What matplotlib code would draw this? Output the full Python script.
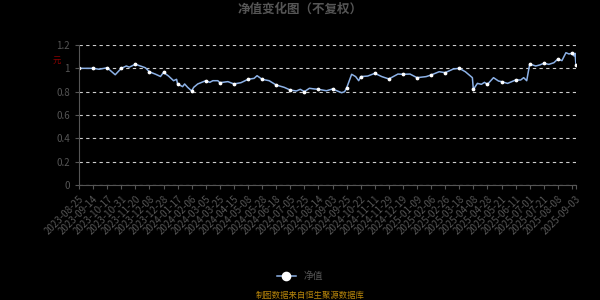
import matplotlib
matplotlib.use("Agg")
import matplotlib.pyplot as plt

plt.rcParams["font.family"] = ["Noto Sans CJK SC", "DejaVu Sans"]

# trading-day index since 2023-08-25 and net value
day_idx = [0, 7, 14, 20, 28, 36, 42, 47, 50, 56, 61, 66, 70, 76, 81, 84, 89, 94, 97, 98,
           103, 105, 108, 112, 114, 118, 122, 126, 130, 133, 138, 140, 148, 154, 161, 168,
           174, 177, 182, 189, 196, 204, 210, 216, 220, 224, 229, 234, 238, 246, 252, 261,
           264, 266, 271, 275, 278, 280, 287, 294, 301, 308, 317, 322, 329, 336, 345, 350,
           358, 364, 372, 378, 384, 391, 392, 396, 400, 403, 406, 412, 417, 420, 426, 434,
           439, 442, 445, 448, 454, 458, 462, 467, 472, 476, 480, 484, 487, 490, 492, 493, 494]
nav = [1.000, 1.000, 1.000, 0.992, 1.005, 0.945, 1.000, 1.020, 1.010, 1.035, 1.020, 1.005,
       0.970, 0.950, 0.930, 0.965, 0.934, 0.894, 0.906, 0.866, 0.843, 0.866, 0.837, 0.806,
       0.837, 0.866, 0.880, 0.894, 0.880, 0.894, 0.894, 0.877, 0.886, 0.866, 0.877, 0.906,
       0.914, 0.937, 0.906, 0.894, 0.857, 0.837, 0.814, 0.806, 0.820, 0.800, 0.829, 0.823,
       0.820, 0.808, 0.823, 0.791, 0.800, 0.831, 0.949, 0.929, 0.894, 0.929, 0.934, 0.957,
       0.929, 0.909, 0.951, 0.949, 0.951, 0.920, 0.929, 0.943, 0.971, 0.963, 0.994, 1.000,
       0.971, 0.920, 0.820, 0.871, 0.863, 0.880, 0.863, 0.920, 0.891, 0.886, 0.871, 0.900,
       0.900, 0.920, 0.894, 1.037, 1.020, 1.029, 1.043, 1.034, 1.048, 1.080, 1.066, 1.134,
       1.123, 1.129, 1.106, 1.129, 1.029]

tick_labels = ["2023-08-25", "2023-09-14", "2023-10-17", "2023-10-31", "2023-11-20",
               "2023-12-08", "2023-12-28", "2024-01-17", "2024-02-06", "2024-03-05",
               "2024-03-25", "2024-04-15", "2024-05-08", "2024-05-28", "2024-06-18",
               "2024-07-05", "2024-07-25", "2024-08-14", "2024-09-03", "2024-09-25",
               "2024-10-22", "2024-11-11", "2024-11-29", "2024-12-19", "2025-01-09",
               "2025-02-06", "2025-02-26", "2025-03-18", "2025-04-08", "2025-04-28",
               "2025-05-21", "2025-06-11", "2025-07-01", "2025-07-21", "2025-08-08", "", "2025-09-03"]
tick_pos = list(range(0, 491, 14)) + [494]

GREY = "#555555"

fig = plt.figure(figsize=(6, 3), dpi=100, facecolor="black")
ax = fig.add_axes([79 / 600, 1 - 185 / 300, 497 / 600, 140 / 300], facecolor="black")

marks = [i for i, d in enumerate(day_idx) if d % 14 == 0 or d == day_idx[-1]]
ax.plot(day_idx, nav, color="#8cb1e6", linewidth=1.1, marker="o", markersize=1.7,
        markerfacecolor="white", markeredgecolor="white", markevery=marks, label="净值")

ax.set_xlim(0, 494)
ax.set_ylim(0, 1.2)
ax.set_yticks([0, 0.2, 0.4, 0.6, 0.8, 1.0, 1.2])
ax.set_yticklabels(["0", "0.2", "0.4", "0.6", "0.8", "1", "1.2"])
ax.set_xticks(tick_pos)
ax.set_xticklabels(tick_labels, rotation=45, ha="right", rotation_mode="anchor")
ax.grid(axis="y", color="#cccccc", linestyle=(0, (3, 3)), linewidth=0.8)
ax.tick_params(axis="x", colors=GREY, labelsize=7, length=3, labelcolor=GREY)
ax.tick_params(axis="y", colors=GREY, labelsize=7, length=3, labelcolor=GREY)
for side in ("top", "right"):
    ax.spines[side].set_visible(False)
for side in ("left", "bottom"):
    ax.spines[side].set_color(GREY)

fig.text(0.5, 1 - 9 / 300, "净值变化图（不复权）", ha="center", va="center",
         color="#555555", fontsize=9, fontweight="bold")
fig.text(57 / 600, 1 - 60 / 300, "元", ha="center", va="center", color="#8b0000", fontsize=6)

leg = fig.legend(loc="center", bbox_to_anchor=(300 / 600, 1 - 276 / 300), frameon=False,
                 fontsize=7, labelcolor=GREY, handlelength=2.0, markerscale=3.5)
fig.text(310 / 600, 1 - 295 / 300, "制图数据来自恒生聚源数据库", ha="center", va="center",
         color="#b8860b", fontsize=6)

fig.savefig("out.png", dpi=100, facecolor="black")
